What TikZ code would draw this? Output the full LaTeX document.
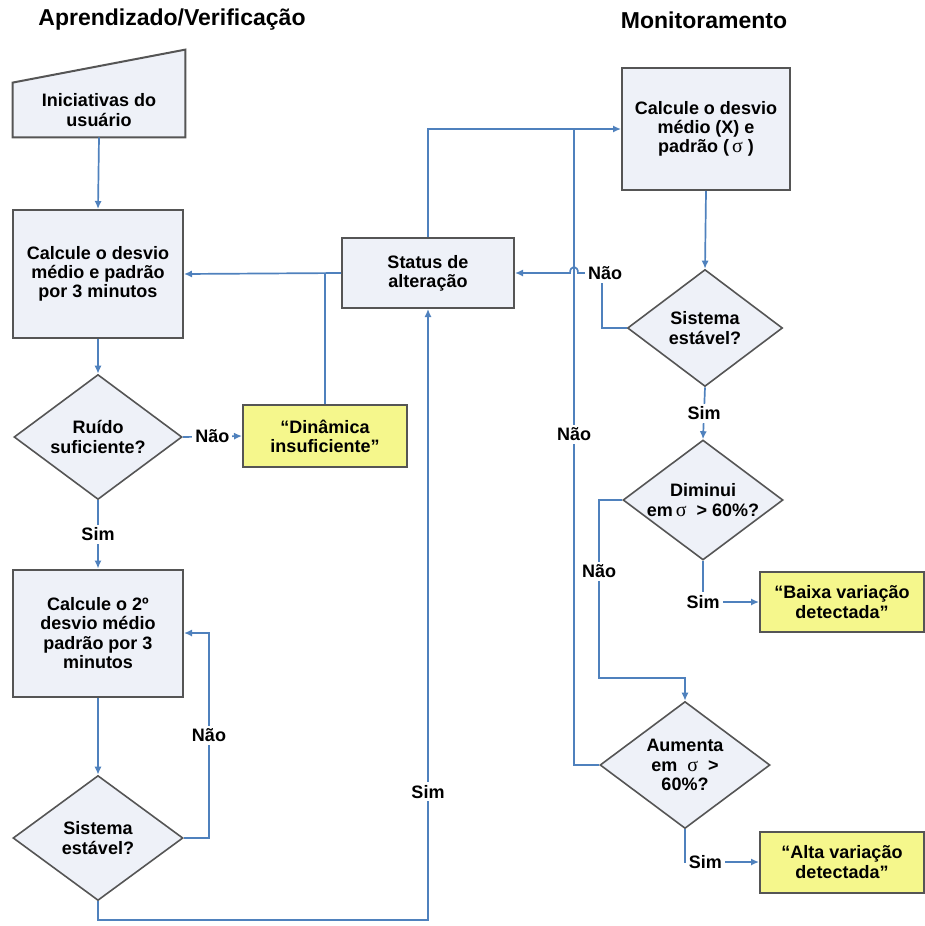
\documentclass[tikz,border=0pt]{standalone}
\usepackage{fontspec}
\setmainfont{Liberation Sans}
\newfontfamily\sigmafont{Liberation Serif}
\usetikzlibrary{shapes.geometric,arrows.meta,backgrounds}

\definecolor{flowblue}{RGB}{79,129,189}
\definecolor{boxfill}{RGB}{238,241,248}
\definecolor{boxline}{RGB}{85,85,85}
\definecolor{noteyel}{RGB}{245,247,140}

% thin upright sigma
\newcommand{\sgm}{{\sigmafont\mdseries\fontsize{10}{9.6}\selectfont σ}}

\begin{document}
\begin{tikzpicture}[x=0.5pt,y=-0.5pt,
  every node/.style={font=\fontsize{9}{9.6}\selectfont\bfseries, align=center},
  head/.style={font=\fontsize{11.5}{13}\selectfont\bfseries},
  box/.style={rectangle, draw=boxline, fill=boxfill, line width=1pt},
  dec/.style={diamond, draw=boxline, fill=boxfill, line width=0.8pt, inner sep=0pt, aspect=1.35},
  note/.style={rectangle, draw=boxline, fill=noteyel, line width=1pt},
  link/.style={draw=flowblue, line width=0.85pt},
  arr/.style={link, -{Latex[length=4pt,width=3.6pt]}},
  lbl/.style={fill=white, inner sep=1.5pt}]

\useasboundingbox (0,0) rectangle (925,926);

% titles
\node[head] (headL) at (172,20) {Aprendizado/Verificação};
\node[head] (headR) at (704,20) {Monitoramento};

% left column
\node[minimum width=86pt, minimum height=27pt] (ini) at (99,110) {Iniciativas do\\usuário};
\begin{scope}[on background layer]
  \filldraw[fill=boxfill, draw=boxline, line width=1pt]
    (ini.south west) -- (ini.north west) -- ([yshift=16.5pt]ini.north east)
    -- (ini.south east) -- cycle;
\end{scope}
\node[box, minimum width=85pt, minimum height=64pt] (calcA) at (98,274) {Calcule o desvio\\médio e padrão\\por 3 minutos};
\node[dec, minimum width=84pt, minimum height=62.5pt] (ruido) at (98,437) {Ruído\\suficiente?};
\node[note, minimum width=82pt, minimum height=31pt] (dinam) at (325,436) {“Dinâmica\\insuficiente”};
\node[box, minimum width=85pt, minimum height=63.5pt] (calcB) at (98,633) {Calcule o 2º\\desvio médio\\padrão por 3\\minutos};
\node[dec, minimum width=85pt, minimum height=62.5pt] (estA) at (98,838) {Sistema\\estável?};

% middle
\node[box, minimum width=86pt, minimum height=35pt] (status) at (428,273) {Status de\\alteração};

% right column
\node[box, minimum width=84pt, minimum height=61pt] (calcM) at (706,129) {Calcule o desvio\\médio (X) e\\padrão (\,\sgm\ )};
\node[dec, minimum width=77.5pt, minimum height=58.5pt] (estB) at (705,328) {Sistema\\estável?};
\node[dec, minimum width=80pt, minimum height=60pt] (dimin) at (703,500) {Diminui\\em\,\sgm\ \ > 60\%?};
\node[note, minimum width=82pt, minimum height=30pt] (baixa) at (842,602) {“Baixa variação\\detectada”};
\node[dec, minimum width=85pt, minimum height=63.5pt] (aumen) at (685,765) {Aumenta\\em\ \ \sgm\ \ >\\60\%?};
\node[note, minimum width=82pt, minimum height=30.5pt] (alta) at (842,862) {“Alta variação\\detectada”};

\coordinate (low) at (428,920);
\coordinate (naoB) at (602,273);
\coordinate (join) at (574,129);
\coordinate (bend) at (599,678);

% left connectors
\draw[arr] (ini.south) -- (calcA.north);
\draw[arr] (calcA.south) -- (ruido.north);
\draw[arr] (ruido.east) -- node[lbl] {Não} (dinam.west);
\draw[arr] (ruido.south) -- node[lbl] {Sim} (calcB.north);
\draw[arr] (calcB.south) -- (estA.north);
\draw[arr] (estA.east) -| ([xshift=12.5pt]calcB.east) node[lbl, pos=0.75] {Não} -- (calcB.east);
\draw[arr] (estA.south) |- (low) -- node[lbl, pos=0.21] {Sim} (status.south);
\draw[link] (dinam.north) -- (dinam.north |- status.west);
\draw[arr] (status.west) -- (calcA.east);

% right connectors
\draw[arr] (status.north) |- (calcM.west);
\draw[arr] (calcM.south) -- (estB.north);
\draw[link] (estB.west) -| (naoB);
\draw[arr] (naoB) -- (578,273) .. controls (578,265) and (570,265) .. (570,273) -- (status.east);
\node[lbl] (naoLbl) at (605,273) {Não};
\draw[link] (aumen.west) -| (join) node[lbl, pos=0.76] {Não};
\draw[arr] (estB.south) -- node[lbl] {Sim} (dimin.north);
\draw[arr] (dimin.south) |- (baixa.west) node[lbl, pos=0.5] {Sim};
\draw[arr] (dimin.west) -| (bend) node[lbl, pos=0.7] {Não} -| (aumen.north);
\draw[arr] (aumen.south) |- (alta.west) node[lbl, pos=0.5, anchor=west] {Sim};

\end{tikzpicture}
\end{document}
